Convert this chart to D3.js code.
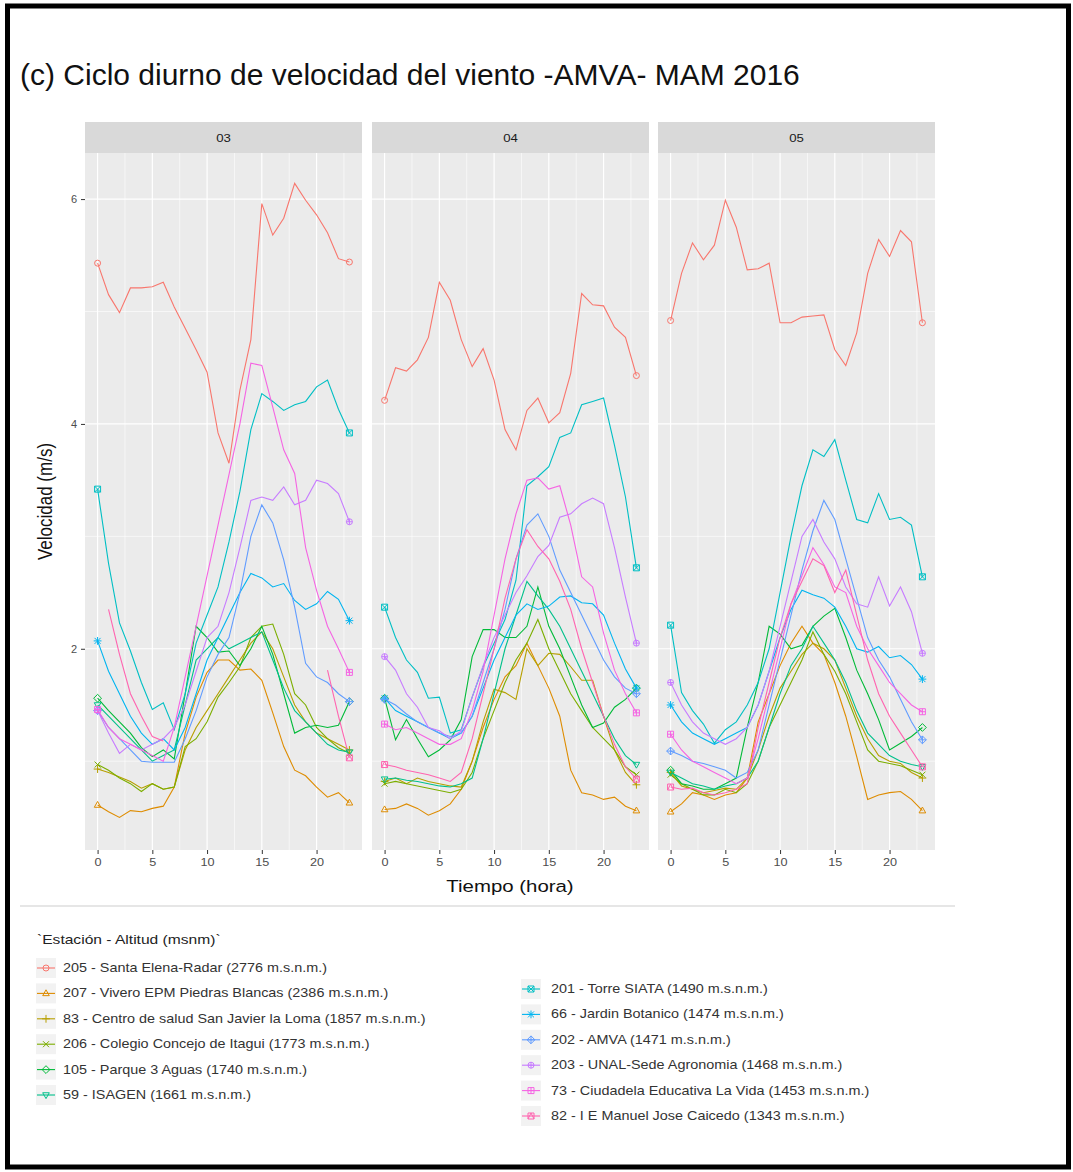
<!DOCTYPE html>
<html>
<head>
<meta charset="utf-8">
<script src="https://d3js.org/d3.v7.min.js"></script>
<style>
  body { margin: 0; background: #fff; }
  svg { display: block; font-family: 'Liberation Sans', Arial, sans-serif; }
</style>
</head>
<body>
<div class="vis"></div>
<script>
  let width = 1073
  let height = 1172

  // hours and facets (months)
  const hours = [0, 1, 2, 3, 4, 5, 6, 7, 8, 9, 10, 11, 12, 13, 14, 15, 16, 17, 18, 19, 20, 21, 22, 23]
  const facets = ['03', '04', '05']
  const xTicks = [0, 5, 10, 15, 20]
  const yTicks = [2, 4, 6]

  const stations = [
    '205 - Santa Elena-Radar (2776 m.s.n.m.)',
    '207 - Vivero EPM Piedras Blancas (2386 m.s.n.m.)',
    '83 - Centro de salud San Javier la Loma (1857 m.s.n.m.)',
    '206 - Colegio Concejo de Itagui (1773 m.s.n.m.)',
    '105 - Parque 3 Aguas (1740 m.s.n.m.)',
    '59 - ISAGEN (1661 m.s.n.m.)',
    '201 - Torre SIATA (1490 m.s.n.m.)',
    '66 - Jardin Botanico (1474 m.s.n.m.)',
    '202 - AMVA (1471 m.s.n.m.)',
    '203 - UNAL-Sede Agronomia (1468 m.s.n.m.)',
    '73 - Ciudadela Educativa La Vida (1453 m.s.n.m.)',
    '82 - I E Manuel Jose Caicedo (1343 m.s.n.m.)'
  ]

  // velocidad (m/s) por hora, una lista por mes: 03, 04, 05
  const v205 = [
    [5.43, 5.15, 4.99, 5.21, 5.21, 5.22, 5.26, 5.04, 4.85, 4.66, 4.46, 3.92, 3.65, 4.3, 4.75, 5.96, 5.68, 5.83, 6.14, 5.99, 5.86, 5.7, 5.47, 5.44],
    [4.21, 4.5, 4.47, 4.57, 4.77, 5.26, 5.1, 4.75, 4.51, 4.67, 4.39, 3.95, 3.77, 4.12, 4.23, 4.01, 4.1, 4.45, 5.16, 5.06, 5.05, 4.86, 4.77, 4.43],
    [4.92, 5.34, 5.61, 5.46, 5.59, 5.99, 5.75, 5.37, 5.38, 5.43, 4.9, 4.9, 4.95, 4.96, 4.97, 4.66, 4.52, 4.81, 5.34, 5.64, 5.49, 5.72, 5.62, 4.9]
  ]
  const v207 = [
    [0.61, 0.55, 0.5, 0.56, 0.55, 0.58, 0.6, 0.77, 1.25, 1.57, 1.79, 1.9, 1.9, 1.81, 1.82, 1.72, 1.43, 1.13, 0.92, 0.87, 0.77, 0.68, 0.72, 0.63],
    [0.57, 0.58, 0.62, 0.58, 0.52, 0.56, 0.62, 0.75, 1.0, 1.3, 1.55, 1.75, 1.85, 2.05, 1.85, 1.65, 1.4, 0.92, 0.72, 0.7, 0.66, 0.68, 0.6, 0.56],
    [0.55, 0.62, 0.72, 0.7, 0.66, 0.7, 0.72, 0.85, 1.35, 1.6, 1.85, 2.05, 2.2, 2.05, 1.95, 1.7, 1.4, 1.04, 0.66, 0.7, 0.72, 0.73, 0.66, 0.56]
  ]
  const v83 = [
    [0.93, 0.9, 0.86, 0.82, 0.76, 0.8, 0.75, 0.77, 1.1, 1.3, 1.45, 1.6, 1.75, 1.9, 2.05, 2.15, 2.0, 1.75, 1.5, 1.35, 1.25, 1.2, 1.15, 1.1],
    [0.82, 0.85, 0.8, 0.85, 0.82, 0.8, 0.78, 0.77, 1.0, 1.35, 1.64, 1.61, 1.55, 2.0, 1.85, 1.96, 1.95, 1.84, 1.72, 1.72, 1.4, 1.1, 0.9, 0.79],
    [0.9, 0.78, 0.75, 0.72, 0.74, 0.76, 0.75, 0.85, 1.1, 1.4, 1.65, 1.8, 1.95, 2.05, 2.0, 1.9, 1.65, 1.4, 1.2, 1.05, 1.0, 0.98, 0.9, 0.85]
  ]
  const v206 = [
    [0.97, 0.92, 0.85, 0.8, 0.73, 0.8, 0.75, 0.77, 1.13, 1.2, 1.35, 1.57, 1.7, 1.84, 2.1, 2.2, 2.22, 1.95, 1.6, 1.5, 1.3, 1.2, 1.12, 1.07],
    [0.8, 0.82, 0.8, 0.78, 0.76, 0.74, 0.72, 0.75, 0.9, 1.2, 1.45, 1.7, 1.9, 2.05, 2.26, 2.0, 1.8, 1.6, 1.45, 1.3, 1.2, 1.1, 0.95, 0.88],
    [0.88, 0.8, 0.75, 0.7, 0.7, 0.75, 0.72, 0.8, 1.0, 1.3, 1.5, 1.7, 1.9, 2.15, 1.95, 1.8, 1.6, 1.35, 1.1, 1.0, 0.98, 0.96, 0.92, 0.88]
  ]
  const v105 = [
    [1.56, 1.45, 1.35, 1.25, 1.12, 1.04, 1.1, 1.02, 1.6, 2.2, 2.1, 1.97, 1.98, 1.85, 2.0, 2.2, 1.95, 1.6, 1.25, 1.3, 1.32, 1.3, 1.32, 1.53],
    [1.56, 1.19, 1.37, 1.2, 1.04, 1.1, 1.19, 1.37, 1.93, 2.17, 2.17, 2.1, 2.1, 2.2, 2.55, 2.2, 2.0, 1.75, 1.5, 1.3, 1.34, 1.48, 1.55, 1.65],
    [0.92, 0.8, 0.78, 0.75, 0.75, 0.8, 0.85, 1.3, 1.7, 2.2, 2.13, 2.0, 2.03, 2.2, 2.29, 2.36, 2.1, 1.81, 1.6, 1.37, 1.1, 1.16, 1.22, 1.3]
  ]
  const v59 = [
    [1.5, 1.4, 1.3, 1.2, 1.1, 1.0, 1.05, 1.1, 1.5, 1.9, 2.0, 2.1, 2.0, 2.05, 2.1, 2.15, 1.9, 1.65, 1.45, 1.35, 1.25, 1.15, 1.1, 1.08],
    [0.84, 0.85, 0.83, 0.82, 0.8, 0.78, 0.77, 0.8, 0.85, 1.2, 1.6, 2.0, 2.3, 2.6, 2.47, 2.35, 2.2, 2.0, 1.8, 1.6, 1.4, 1.2, 1.05, 0.97],
    [0.9, 0.85, 0.8, 0.78, 0.75, 0.78, 0.8, 0.85, 1.0, 1.3, 1.6, 1.85, 2.0, 2.2, 2.05, 1.9, 1.7, 1.45, 1.25, 1.15, 1.05, 1.0, 0.97, 0.95]
  ]
  const v201 = [
    [3.42, 2.76, 2.23, 1.98, 1.7, 1.46, 1.52, 1.28, 1.6, 2.05, 2.3, 2.55, 2.95, 3.4, 3.95, 4.27, 4.2, 4.12, 4.17, 4.2, 4.33, 4.39, 4.13, 3.92],
    [2.37, 2.1, 1.9, 1.79, 1.56, 1.57, 1.25, 1.28, 1.57, 1.84, 2.05, 2.26, 2.61, 3.45, 3.53, 3.62, 3.88, 3.92, 4.17, 4.2, 4.23, 3.81, 3.35, 2.72],
    [2.21, 1.61, 1.45, 1.33, 1.16, 1.28, 1.35, 1.5, 1.7, 2.0, 2.5, 3.0, 3.45, 3.77, 3.71, 3.86, 3.5, 3.15, 3.12, 3.38, 3.15, 3.17, 3.1, 2.64]
  ]
  const v66 = [
    [2.07, 1.8, 1.6, 1.4, 1.25, 1.15, 1.2, 1.1, 1.3, 1.6, 1.9, 2.1, 2.3, 2.5, 2.67, 2.63, 2.55, 2.58, 2.43, 2.35, 2.4, 2.51, 2.44, 2.25],
    [1.56, 1.45, 1.4, 1.35, 1.3, 1.25, 1.2, 1.25, 1.4, 1.65, 1.9, 2.1, 2.3, 2.4, 2.35, 2.38, 2.46, 2.47, 2.41, 2.4, 2.3, 2.05, 1.82, 1.65],
    [1.5, 1.35, 1.25, 1.2, 1.15, 1.2, 1.25, 1.3, 1.5, 1.8, 2.1, 2.35, 2.52, 2.48, 2.45, 2.37, 2.2, 2.0, 1.97, 2.02, 1.92, 1.94, 1.86, 1.73]
  ]
  const v202 = [
    [1.45, 1.3, 1.2, 1.1, 1.0, 0.99, 0.99, 0.99, 1.2, 1.45, 1.75, 1.95, 2.1, 2.5, 3.0, 3.28, 3.12, 2.79, 2.37, 1.87, 1.75, 1.7, 1.6, 1.53],
    [1.55, 1.5, 1.42, 1.35, 1.3, 1.25, 1.22, 1.25, 1.4, 1.7, 2.0, 2.35, 2.8, 3.1, 3.2, 3.0, 2.7, 2.5, 2.3, 2.1, 1.9, 1.75, 1.65, 1.6],
    [1.09, 1.05, 1.0, 0.98, 0.95, 0.92, 0.85, 0.9, 1.1, 1.5, 1.9, 2.3, 2.7, 3.05, 3.32, 3.15, 2.8, 2.45, 2.1, 1.9, 1.75, 1.55, 1.35, 1.19]
  ]
  const v203 = [
    [1.45, 1.25, 1.07, 1.15, 1.1, 1.15, 1.2, 1.3, 1.5, 1.8, 2.1, 2.2, 2.5, 2.9, 3.32, 3.35, 3.32, 3.44, 3.28, 3.32, 3.5, 3.47, 3.38, 3.13],
    [1.93, 1.81, 1.6, 1.48, 1.3, 1.27, 1.2, 1.27, 1.57, 1.85, 2.1, 2.3, 2.5, 2.65, 2.82, 2.92, 3.17, 3.2, 3.29, 3.34, 3.29, 2.9, 2.46, 2.05],
    [1.7, 1.5, 1.35, 1.25, 1.2, 1.15, 1.2, 1.3, 1.5, 1.8, 2.2, 2.6, 3.0, 3.15, 2.95, 2.8, 2.55, 2.4, 2.37, 2.64, 2.38, 2.55, 2.33, 1.96]
  ]
  const v73 = [
    [1.46, 1.3, 1.2, 1.15, 1.1, 1.05, 1.0, 1.3, 1.75, 2.2, 2.65, 3.1, 3.55, 4.0, 4.54, 4.52, 4.15, 3.77, 3.56, 2.9, 2.52, 2.2, 2.0, 1.79],
    [1.33, 1.28, 1.3, 1.25, 1.2, 1.15, 1.15, 1.2, 1.45, 1.8, 2.3, 2.8, 3.2, 3.5, 3.52, 3.42, 3.45, 3.1, 2.64, 2.55, 2.14, 1.81, 1.6, 1.43],
    [1.24, 1.1, 1.0, 0.95, 0.9, 0.85, 0.8, 0.85, 1.2, 1.6, 2.0, 2.4, 2.65, 2.9, 2.75, 2.55, 2.5, 2.2, 2.0, 1.85, 1.7, 1.6, 1.5, 1.44]
  ]
  const v82 = [
    [null, 2.35, 1.95, 1.6, 1.4, 1.22, 1.18, null, null, null, null, null, null, null, null, null, null, null, null, null, null, 1.81, 1.4, 1.03],
    [0.97, 0.95, 0.92, 0.9, 0.88, 0.85, 0.82, 0.9, 1.2, 1.6, 2.0, 2.45, 2.8, 3.06, 2.91, 2.8, 2.6, 2.35, 2.0, 1.7, 1.4, 1.15, 0.95, 0.84],
    [0.77, 0.75, 0.76, 0.72, 0.7, 0.72, 0.75, 0.8, 1.3, 1.7, 2.1, 2.4, 2.6, 2.8, 2.74, 2.5, 2.7, 2.3, 1.9, 1.6, 1.4, 1.25, 1.1, 0.95]
  ]
  const values = [v205, v207, v83, v206, v105, v59, v201, v66, v202, v203, v73, v82]

  // ggplot hue palette for 12 levels, and point shapes 1..12
  const palette = ['#F8766D', '#DE8C00', '#B79F00', '#7CAE00', '#00BA38', '#00C08B',
                   '#00BFC4', '#00B4F0', '#619CFF', '#C77CFF', '#F564E3', '#FF64B0']
  const shapes = ['circle', 'triangle', 'plus', 'cross', 'diamond', 'triangleDown',
                  'squareCross', 'asterisk', 'diamondPlus', 'circlePlus', 'squarePlus', 'squareTriangle']

  let color = d3.scaleOrdinal(stations, palette)
  let shape = d3.scaleOrdinal(stations, shapes)

  function shapePath(type, r) {
    let circ = `M${r},0A${r},${r} 0 1,1 ${-r},0A${r},${r} 0 1,1 ${r},0`
    let sq = `M${-r},${-r}H${r}V${r}H${-r}Z`
    let d = r * 1.3
    let dia = `M0,${-d}L${d},0L0,${d}L${-d},0Z`
    let plus = `M${-r},0H${r}M0,${-r}V${r}`
    let crs = `M${-r},${-r}L${r},${r}M${-r},${r}L${r},${-r}`
    let tri = `M0,${-r * 1.2}L${r * 1.1},${r * 0.75}L${-r * 1.1},${r * 0.75}Z`
    let triD = `M0,${r * 1.2}L${r * 1.1},${-r * 0.75}L${-r * 1.1},${-r * 0.75}Z`
    switch (type) {
      case 'circle': return circ
      case 'triangle': return tri
      case 'plus': return `M${-d},0H${d}M0,${-d}V${d}`
      case 'cross': return crs
      case 'diamond': return dia
      case 'triangleDown': return triD
      case 'squareCross': return sq + crs
      case 'asterisk': return `M${-d},0H${d}M0,${-d}V${d}` + crs
      case 'diamondPlus': return dia + `M${-d},0H${d}M0,${-d}V${d}`
      case 'circlePlus': return circ + plus
      case 'squarePlus': return sq + plus
      case 'squareTriangle': return sq + `M${-r},${r}L0,${-r}L${r},${r}`
    }
  }

  let svg = d3.select('.vis').append('svg')
    .attr('width', width)
    .attr('height', height)

  svg.append('rect').attr('width', width).attr('height', height).attr('fill', '#fff')

  // outer frame
  svg.append('rect')
    .attr('x', 7.5).attr('y', 6)
    .attr('width', 1061).attr('height', 1161)
    .attr('fill', 'none')
    .attr('stroke', '#000')
    .attr('stroke-width', 5)

  svg.append('text')
    .attr('x', 20).attr('y', 85)
    .attr('font-size', 30)
    .attr('fill', '#111')
    .text('(c) Ciclo diurno de velocidad del viento -AMVA- MAM 2016')

  let panelX = [85, 372, 658]
  let panelW = 277
  let stripTop = 122
  let panelTop = 153
  let panelBottom = 850

  let y = d3.scaleLinear().domain([0.21, 6.41]).range([panelBottom, panelTop])

  let line = (x) => d3.line()
    .defined((d) => d != null)
    .x((d, i) => x(hours[i]))
    .y((d) => y(d))

  facets.forEach((f, fi) => {
    let x = d3.scaleLinear().domain([-1.15, 24.15]).range([panelX[fi], panelX[fi] + panelW])
    let g = svg.append('g')

    // strip
    g.append('rect')
      .attr('x', panelX[fi]).attr('y', stripTop)
      .attr('width', panelW).attr('height', panelTop - stripTop)
      .attr('fill', '#D9D9D9')
    g.append('text')
      .attr('transform', `translate(${panelX[fi] + panelW / 2},${(stripTop + panelTop) / 2 + 4}) scale(1.2,1)`)
      .attr('text-anchor', 'middle')
      .attr('font-size', 11)
      .attr('fill', '#1A1A1A')
      .text(f)

    // panel background and grid
    g.append('rect')
      .attr('x', panelX[fi]).attr('y', panelTop)
      .attr('width', panelW).attr('height', panelBottom - panelTop)
      .attr('fill', '#EBEBEB')

    g.selectAll('.xminor').data([2.5, 7.5, 12.5, 17.5, 22.5]).join('line')
      .attr('x1', (d) => x(d)).attr('x2', (d) => x(d))
      .attr('y1', panelTop).attr('y2', panelBottom)
      .attr('stroke', '#fff').attr('stroke-width', 0.6)
    g.selectAll('.yminor').data([1, 3, 5]).join('line')
      .attr('x1', panelX[fi]).attr('x2', panelX[fi] + panelW)
      .attr('y1', (d) => y(d)).attr('y2', (d) => y(d))
      .attr('stroke', '#fff').attr('stroke-width', 0.6)
    g.selectAll('.xmajor').data(xTicks).join('line')
      .attr('x1', (d) => x(d)).attr('x2', (d) => x(d))
      .attr('y1', panelTop).attr('y2', panelBottom)
      .attr('stroke', '#fff').attr('stroke-width', 1.2)
    g.selectAll('.ymajor').data(yTicks).join('line')
      .attr('x1', panelX[fi]).attr('x2', panelX[fi] + panelW)
      .attr('y1', (d) => y(d)).attr('y2', (d) => y(d))
      .attr('stroke', '#fff').attr('stroke-width', 1.2)

    // x axis
    g.append('g')
      .attr('transform', `translate(0,${panelBottom})`)
      .call(d3.axisBottom(x).tickValues(xTicks).tickFormat(d3.format('d')).tickSize(4).tickPadding(4))
      .call((a) => a.select('.domain').remove())
      .call((a) => a.selectAll('line').attr('stroke', '#333'))
      .call((a) => a.selectAll('text')
        .attr('fill', '#4D4D4D')
        .attr('font-size', 11)
        .attr('font-family', null)
        .attr('transform', 'scale(1.15,1)'))

    if (fi === 0) {
      g.append('g')
        .attr('transform', `translate(${panelX[0]},0)`)
        .call(d3.axisLeft(y).tickValues(yTicks).tickFormat(d3.format('d')).tickSize(4).tickPadding(4))
        .call((a) => a.select('.domain').remove())
        .call((a) => a.selectAll('line').attr('stroke', '#333'))
        .call((a) => a.selectAll('text')
          .attr('fill', '#4D4D4D')
          .attr('font-size', 11)
          .attr('font-family', null))
    }

    // lines
    g.append('g')
      .selectAll('path')
      .data(stations)
      .join('path')
        .attr('d', (s, si) => line(x)(values[si][fi]))
        .attr('fill', 'none')
        .attr('stroke', (s) => color(s))
        .attr('stroke-width', 1.1)

    // points at the first and last hour
    let pts = []
    stations.forEach((s, si) => {
      [0, 23].forEach((h) => {
        let v = values[si][fi][h]
        if (v != null) pts.push({ s: s, h: h, v: v })
      })
    })
    g.append('g')
      .selectAll('path')
      .data(pts)
      .join('path')
        .attr('transform', (d) => `translate(${x(d.h)},${y(d.v)})`)
        .attr('d', (d) => shapePath(shape(d.s), 3))
        .attr('fill', 'none')
        .attr('stroke', (d) => color(d.s))
        .attr('stroke-width', 1)
  })

  // axis titles
  svg.append('text')
    .attr('transform', `translate(${(panelX[0] + panelX[2] + panelW) / 2},${892}) scale(1.2,1)`)
    .attr('text-anchor', 'middle')
    .attr('font-size', 17)
    .attr('fill', '#111')
    .text('Tiempo (hora)')

  svg.append('text')
    .attr('transform', `translate(${52},${(panelTop + panelBottom) / 2}) rotate(-90) scale(1,1.2)`)
    .attr('text-anchor', 'middle')
    .attr('font-size', 17)
    .attr('fill', '#111')
    .text('Velocidad (m/s)')

  // separator
  svg.append('line')
    .attr('x1', 20).attr('x2', 955)
    .attr('y1', 906).attr('y2', 906)
    .attr('stroke', '#E6E6E6').attr('stroke-width', 2)

  // legend
  svg.append('text')
    .attr('transform', 'translate(37,944) scale(1.2,1)')
    .attr('font-size', 13)
    .attr('fill', '#222')
    .text('`Estación - Altitud (msnm)`')

  let legendPos = (i) => {
    let col = i < 6 ? 0 : 1
    let row = i % 6
    return { kx: col === 0 ? 46 : 531, tx: col === 0 ? 63 : 551, ky: (col === 0 ? 968 : 989) + row * 25.4 }
  }

  let legend = svg.append('g')
    .selectAll('g')
    .data(stations)
    .join('g')
      .attr('transform', (d, i) => `translate(0,${legendPos(i).ky})`)

  legend.append('rect')
    .attr('x', (d, i) => legendPos(i).kx - 10)
    .attr('y', -10)
    .attr('width', 20).attr('height', 20)
    .attr('fill', '#F2F2F2')

  legend.append('line')
    .attr('x1', (d, i) => legendPos(i).kx - 9)
    .attr('x2', (d, i) => legendPos(i).kx + 9)
    .attr('stroke', (d) => color(d))
    .attr('stroke-width', 1.1)

  legend.append('path')
    .attr('transform', (d, i) => `translate(${legendPos(i).kx},0)`)
    .attr('d', (d) => shapePath(shape(d), 3))
    .attr('fill', 'none')
    .attr('stroke', (d) => color(d))

  legend.append('text')
    .attr('transform', (d, i) => `translate(${legendPos(i).tx},4) scale(1.2,1)`)
    .attr('font-size', 12)
    .attr('fill', '#333')
    .text((d) => d)
</script>
</body>
</html>
